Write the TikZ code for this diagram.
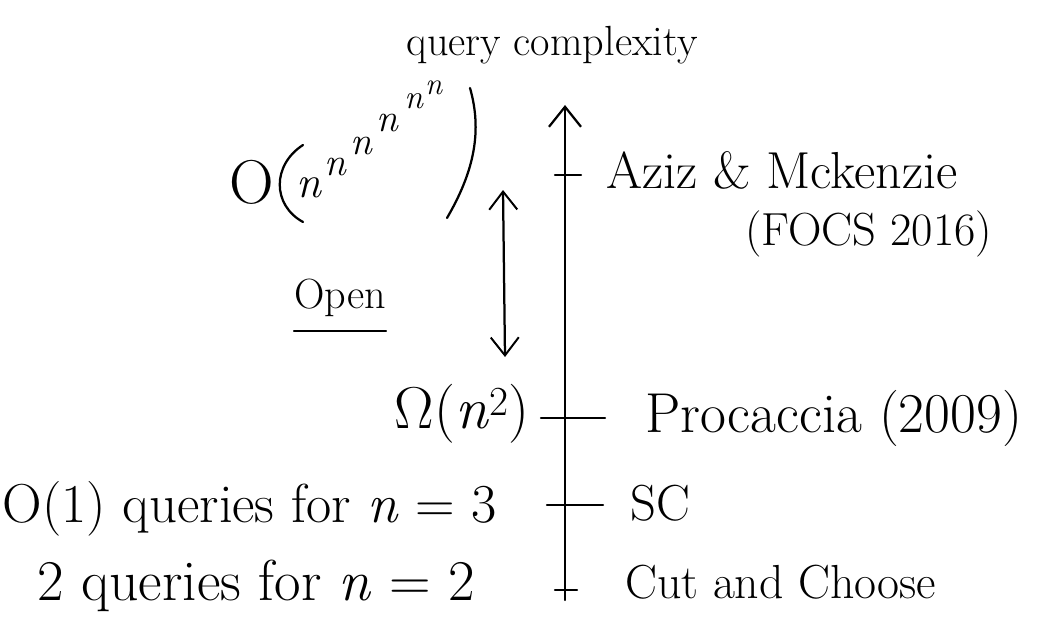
\documentclass[tikz,border=0pt]{standalone}
\usetikzlibrary{arrows.meta}
\newcommand{\hn}{\textit{n}}
\begin{document}
\begin{tikzpicture}[x=0.025cm,y=-0.025cm,
  hand/.style={inner sep=0pt,font=\fontsize{34}{40}\selectfont},
  small/.style={inner sep=0pt,font=\fontsize{30}{36}\selectfont},
  ink/.style={line width=1.6pt,line cap=round,line join=round},
  barb/.style={ink,-{Straight Barb[length=5mm,width=8mm,line width=1.6pt]}},
  dbarb/.style={ink,{Straight Barb[length=4.5mm,width=7mm,line width=1.4pt]}-{Straight Barb[length=4.5mm,width=7mm,line width=1.4pt]}},
  tick/.style={ink}]
\useasboundingbox (0,0) rectangle (1049,630);
% title
\node[inner sep=0pt,font=\fontsize{30}{36}\selectfont] (title) at (552,45) {query complexity};
% main axis
\coordinate (axB) at (565,600);
\coordinate (axT) at (565,105);
\draw[barb] (axB) -- (axT);
% tick positions
\coordinate (tA) at (565,175);
\coordinate (tP) at (565,418);
\coordinate (tS) at (565,505);
\coordinate (tC) at (565,590);
\draw[tick] ([xshift=-0.25cm]tA) -- ([xshift=0.4cm]tA);
\draw[tick] ([xshift=-0.6cm]tP) -- ([xshift=1cm]tP);
\draw[tick] ([xshift=-0.45cm]tS) -- ([xshift=0.95cm]tS);
\draw[tick] ([xshift=-0.25cm]tC) -- ([xshift=0.3cm]tC);
% right labels
\node[inner sep=0pt,font=\fontsize{37}{44}\selectfont,anchor=base west] (aziz) at (606,188) {Aziz \& Mckenzie};
\node[inner sep=0pt,font=\fontsize{33}{40}\selectfont,anchor=base west] (focs) at (745,245) {(FOCS 2016)};
\node[inner sep=0pt,font=\fontsize{40}{46}\selectfont,anchor=base west] (proc) at (645,432) {Procaccia (2009)};
\node[inner sep=0pt,font=\fontsize{36}{42}\selectfont,anchor=base west] (sc) at (630,520) {SC};
\node[hand,anchor=base west] (cut) at (625,598) {Cut and Choose};
% left labels
\node[inner sep=0pt,font=\fontsize{42}{48}\selectfont,anchor=base east] (omega) at (530,428) {Ω(\hn\textsuperscript{2})};
\node[inner sep=0pt,font=\fontsize{39}{46}\selectfont,anchor=base east] (q3) at (497,522) {O(1) queries for \hn\ = 3};
\node[inner sep=0pt,font=\fontsize{41}{48}\selectfont,anchor=base east] (q2) at (475,600) {2 queries for \hn\ = 2};
% open
\node[small] (open) at (340,298) {Open};
\draw[ink,line width=1.2pt] ([yshift=-0.35cm]open.south west) -- ([yshift=-0.35cm]open.south east);
% double arrow
\coordinate (dT) at (503,190);
\coordinate (dB) at (505,357);
\draw[dbarb] (dT) -- (dB);
% big O term
\node[inner sep=0pt,font=\fontsize{44}{50}\selectfont] (bigO) at (252,182) {O};
\coordinate (lpT) at (303,145);
\coordinate (lpB) at (303,222);
\draw[ink] (lpT) .. controls (272,165) and (272,205) .. (lpB);
\node[inner sep=0pt,font=\fontsize{32}{36}\selectfont] (n1) at (309,188) {\hn};
\node[inner sep=0pt,font=\fontsize{28}{32}\selectfont] (n2) at (336,167) {\hn};
\node[inner sep=0pt,font=\fontsize{28}{32}\selectfont] (n3) at (362,146) {\hn};
\node[inner sep=0pt,font=\fontsize{28}{32}\selectfont] (n4) at (388,123) {\hn};
\node[inner sep=0pt,font=\fontsize{24}{28}\selectfont] (n5) at (414,101) {\hn};
\node[inner sep=0pt,font=\fontsize{22}{26}\selectfont] (n6) at (434,88) {\hn};
\coordinate (rpT) at (470,88);
\coordinate (rpB) at (447,218);
\draw[ink] (rpT) .. controls (482,130) and (475,170) .. (rpB);
\end{tikzpicture}
\end{document}
